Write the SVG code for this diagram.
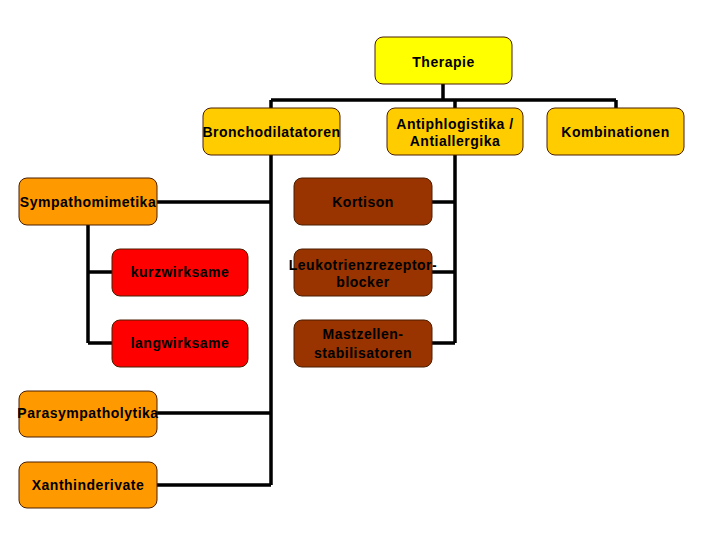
<svg xmlns="http://www.w3.org/2000/svg" width="720" height="540" viewBox="0 0 720 540">
<style>
.n{stroke:#4a1e00;stroke-width:1}
.t{font-family:"Liberation Sans",Arial,sans-serif;font-size:14px;font-weight:bold;letter-spacing:0.5px;fill:#000;text-anchor:middle}
.y{fill:#FFFF00}.g{fill:#FFCC00}.o{fill:#FF9900}.r{fill:#FF0000}.b{fill:#993300}
#connectors path{fill:none;stroke:#000;stroke-width:3.5}
</style>
<rect width="720" height="540" fill="#fff"/>
<g id="connectors">
<path d="M443 84V100M271 100H616M271 100V108M455 100V108M616 100V108"/>
<path d="M271 155V485M157 202H271M157 413H271M157 485H271"/>
<path d="M88 225V343M88 272H112M88 343H112"/>
<path d="M455 155V343M432 202H455M432 272H455M432 343H455"/>
</g>
<g id="therapie"><rect class="n y" x="375" y="37" width="137" height="47" rx="8"/><text class="t" x="443.5" y="67">Therapie</text></g>
<g id="bronchodilatatoren"><rect class="n g" x="203" y="108" width="137" height="47" rx="8"/><text class="t" x="271.5" y="137">Bronchodilatatoren</text></g>
<g id="antiphlogistika"><rect class="n g" x="387" y="108" width="136" height="47" rx="8"/><text class="t" x="455" y="129">Antiphlogistika /</text><text class="t" x="455" y="146">Antiallergika</text></g>
<g id="kombinationen"><rect class="n g" x="547" y="108" width="137" height="47" rx="8"/><text class="t" x="615.5" y="137">Kombinationen</text></g>
<g id="sympathomimetika"><rect class="n o" x="19" y="178" width="138" height="47" rx="8"/><text class="t" x="88" y="207">Sympathomimetika</text></g>
<g id="kurzwirksame"><rect class="n r" x="112" y="249" width="136" height="47" rx="8"/><text class="t" x="180" y="277">kurzwirksame</text></g>
<g id="langwirksame"><rect class="n r" x="112" y="320" width="136" height="47" rx="8"/><text class="t" x="180" y="348">langwirksame</text></g>
<g id="kortison"><rect class="n b" x="294" y="178" width="138" height="47" rx="8"/><text class="t" x="363" y="207">Kortison</text></g>
<g id="leukotrien"><rect class="n b" x="294" y="249" width="138" height="47" rx="8"/><text class="t" x="363" y="270">Leukotrienzrezeptor-</text><text class="t" x="363" y="287">blocker</text></g>
<g id="mastzellen"><rect class="n b" x="294" y="320" width="138" height="47" rx="8"/><text class="t" x="363" y="339">Mastzellen-</text><text class="t" x="363" y="358">stabilisatoren</text></g>
<g id="parasympatholytika"><rect class="n o" x="19" y="391" width="138" height="46" rx="8"/><text class="t" x="88" y="418">Parasympatholytika</text></g>
<g id="xanthinderivate"><rect class="n o" x="19" y="462" width="138" height="46" rx="8"/><text class="t" x="88" y="490">Xanthinderivate</text></g>
</svg>
